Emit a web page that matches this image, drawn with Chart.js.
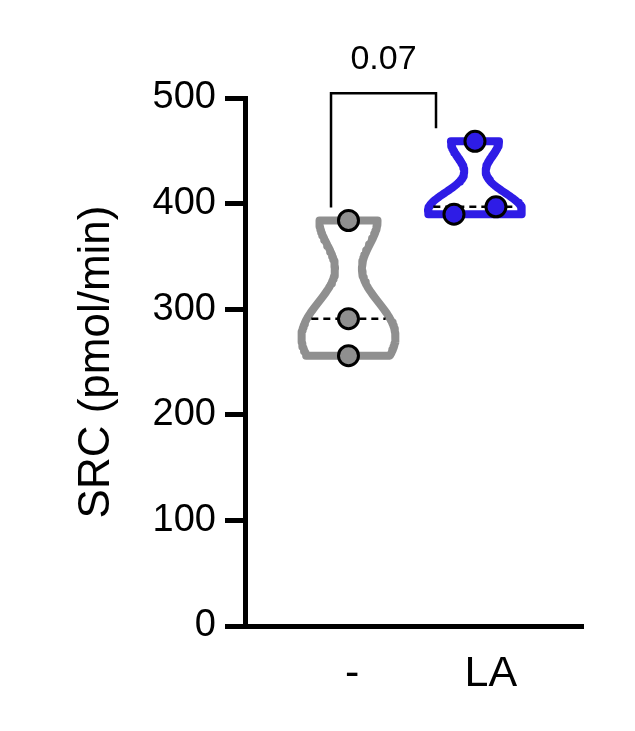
<!DOCTYPE html>
<html><head><meta charset="utf-8">
<script src="https://cdn.jsdelivr.net/npm/chart.js@4"></script>
<style>html,body{margin:0;padding:0;background:#fff}#wrap{width:635px;height:731px}</style>
</head><body><div id="wrap"><canvas id="c" width="635" height="731"></canvas></div>
<script>
// ---- data ----
const categories = ['-', 'LA'];
const controlValues = [256, 291, 384];
const laValues = [390, 397, 459];
const yTicks = [0, 100, 200, 300, 400, 500];
const pValue = '0.07';
const bandwidths = [27, 17];

// ---- styling / layout constants ----
const groupColors = ['#8f8f8f', '#2e1ce6'];
const groupCenters = [0, 1];
const labelPositions = [0.03, 1.126];
const bracketX = [-0.138, 0.692];
const X_MIN = -0.818, X_MAX = 1.854;
const MAX_HALF = 0.3715;
const FONT = '"Liberation Sans", Arial, sans-serif';
Chart.defaults.color = '#000';
Chart.defaults.font.family = FONT;

const groups = [controlValues, laValues];

function density(vals, h, y) {
  return vals.reduce((s, v) => s + Math.exp(-0.5 * ((y - v) / h) ** 2), 0);
}
function violinInfo(vals, h) {
  const lo = Math.min(...vals), hi = Math.max(...vals);
  const N = 90, ys = [];
  for (let i = 0; i <= N; i++) ys.push(lo + (hi - lo) * i / N);
  const dens = ys.map(y => density(vals, h, y));
  const m = Math.max(...dens);
  return { ys, half: dens.map(d => d / m * MAX_HALF), m };
}
function halfAt(vals, h, y, m) { return density(vals, h, y) / m * MAX_HALF; }
function median(vals) {
  const s = [...vals].sort((a, b) => a - b), n = s.length;
  return n % 2 ? s[(n - 1) / 2] : (s[n / 2 - 1] + s[n / 2]) / 2;
}
function jitterPoints(vals, cx) {
  const s = [...vals].sort((a, b) => a - b);
  const out = [];
  let i = 0;
  while (i < s.length) {
    let j = i;
    while (j + 1 < s.length && s[j + 1] - s[j] < 20) j++;
    const k = j - i + 1;
    for (let t = 0; t < k; t++) {
      const off = k === 1 ? 0 : (t - (k - 1) / 2) * 0.332;
      out.push({ x: cx + off, y: s[i + t] });
    }
    i = j + 1;
  }
  return out;
}

const datasets = [];
groups.forEach((vals, g) => {
  const cx = groupCenters[g];
  datasets.push({
    type: 'scatter', data: jitterPoints(vals, cx), order: 0,
    pointRadius: 10, pointHoverRadius: 10, pointBorderWidth: 3,
    pointBackgroundColor: groupColors[g], pointBorderColor: '#000', showLine: false
  });
  const info = violinInfo(vals, bandwidths[g]);
  const med = median(vals);
  const hm = halfAt(vals, bandwidths[g], med, info.m) - 0.035;
  datasets.push({
    type: 'scatter', showLine: true, order: 1,
    data: [{ x: cx - hm, y: med }, { x: cx + hm, y: med }],
    borderColor: '#000', borderWidth: 2.5, borderDash: [7, 5], pointRadius: 0, fill: false
  });
  const left = info.ys.map((y, i) => ({ x: cx - info.half[i], y }));
  const right = info.ys.map((y, i) => ({ x: cx + info.half[i], y })).reverse();
  datasets.push({
    type: 'scatter', showLine: true, order: 2,
    data: [...left, ...right, left[0], left[1]],
    borderColor: groupColors[g], borderWidth: 8, pointRadius: 0, fill: false,
    borderJoinStyle: 'round', borderCapStyle: 'round', tension: 0
  });
});

const bracketPlugin = {
  id: 'bracket',
  afterDraw(chart) {
    const { ctx, scales: { x, y } } = chart;
    const x1 = x.getPixelForValue(bracketX[0]);
    const x2 = x.getPixelForValue(bracketX[1]);
    const leg1 = y.getPixelForValue(Math.max(...controlValues)) - 13;
    const leg2 = y.getPixelForValue(Math.max(...laValues)) - 13;
    const top = Math.min(leg1, leg2) - 35;
    ctx.save();
    ctx.strokeStyle = '#000';
    ctx.lineWidth = 2.5;
    ctx.lineJoin = 'miter';
    ctx.beginPath();
    ctx.moveTo(x1, leg1); ctx.lineTo(x1, top); ctx.lineTo(x2, top); ctx.lineTo(x2, leg2);
    ctx.stroke();
    ctx.fillStyle = '#000';
    ctx.font = '34px ' + FONT;
    ctx.textAlign = 'center';
    ctx.textBaseline = 'alphabetic';
    ctx.fillText(pValue, (x1 + x2) / 2, top - 24);
    ctx.restore();
  }
};

new Chart(document.getElementById('c'), {
  type: 'scatter',
  data: { datasets },
  options: {
    responsive: false, animation: false, devicePixelRatio: 1,
    layout: { padding: { left: 0, right: 52, top: 98, bottom: 0 } },
    plugins: { legend: { display: false }, tooltip: { enabled: false } },
    scales: {
      x: {
        type: 'linear', min: X_MIN, max: X_MAX,
        afterBuildTicks: s => { s.ticks = labelPositions.map(v => ({ value: v })); },
        afterFit: s => { s.height = 105; },
        ticks: {
          autoSkip: false, maxRotation: 0, padding: 22,
          font: { size: 43 }, color: '#000',
          callback: (v, i) => categories[i]
        },
        grid: { display: false, drawTicks: false },
        border: { display: true, width: 5, color: '#000' }
      },
      y: {
        type: 'linear', min: 0, max: 500,
        afterBuildTicks: s => { s.ticks = yTicks.map(v => ({ value: v })); },
        afterFit: s => { s.width = 245; },
        ticks: { padding: 9, font: { size: 38 }, color: '#000' },
        grid: { display: true, drawOnChartArea: false, drawTicks: true, tickLength: 20, tickWidth: 5, tickColor: '#000' },
        border: { display: true, width: 5, color: '#000' },
        title: { display: true, text: 'SRC (pmol/min)', font: { size: 44 }, color: '#000', padding: { top: 70, bottom: 0 } }
      }
    }
  },
  plugins: [bracketPlugin]
});
</script>
</body></html>
